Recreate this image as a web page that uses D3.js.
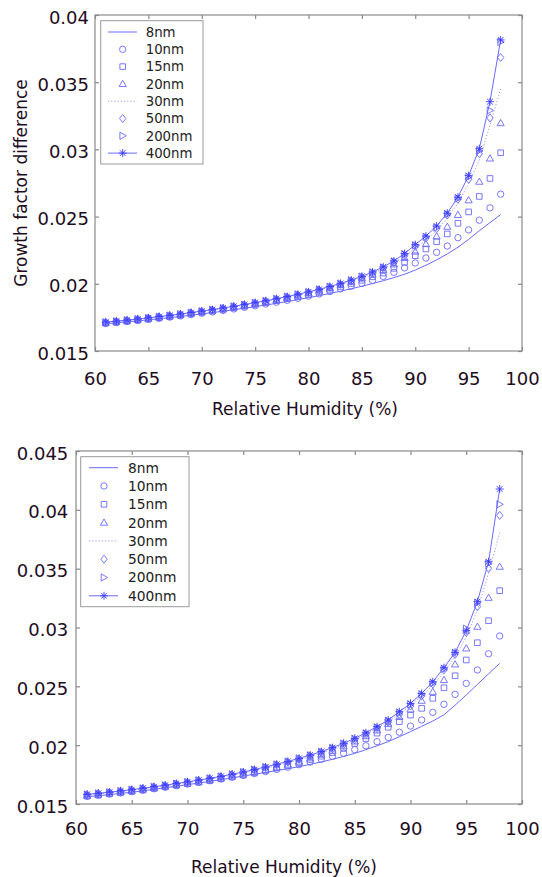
<!DOCTYPE html>
<html>
<head>
<meta charset="utf-8">
<script src="https://cdn.jsdelivr.net/npm/d3@7"></script>
<style>
  body { margin: 0; background: #fff; }
  text { font-family: "DejaVu Sans", sans-serif; }
</style>
</head>
<body>
<script>
const w = 542;
const h = 877;

// Relative humidity (%) of every point
const humidity = [61,62,63,64,65,66,67,68,69,70,71,72,73,74,75,76,77,78,79,80,
                  81,82,83,84,85,86,87,88,89,90,91,92,93,94,95,96,97,98];

const sizes = ["8nm", "10nm", "15nm", "20nm", "30nm", "50nm", "200nm", "400nm"];

// upper panel, growth factor difference
const top8   = [0.01703,0.01710,0.01717,0.01724,0.01732,0.01740,0.01748,0.01757,0.01766,0.01776,0.01786,0.01796,0.01807,0.01818,0.01830,0.01842,0.01855,0.01868,0.01882,0.01897,0.01912,0.01928,0.01945,0.01963,0.01982,0.02002,0.02023,0.02046,0.02071,0.02102,0.02138,0.02178,0.02222,0.02272,0.02330,0.02395,0.02455,0.02515];
const top10  = [0.01705,0.01712,0.01719,0.01727,0.01735,0.01743,0.01752,0.01761,0.01771,0.01781,0.01791,0.01802,0.01813,0.01825,0.01837,0.01850,0.01863,0.01877,0.01892,0.01908,0.01925,0.01943,0.01962,0.01982,0.02003,0.02025,0.02055,0.02085,0.02118,0.02155,0.02192,0.02234,0.02281,0.02343,0.02401,0.02473,0.02565,0.02667];
const top15  = [0.01708,0.01715,0.01722,0.01730,0.01738,0.01747,0.01756,0.01766,0.01776,0.01787,0.01798,0.01809,0.01821,0.01833,0.01846,0.01860,0.01874,0.01889,0.01905,0.01922,0.01940,0.01959,0.01980,0.02002,0.02026,0.02052,0.02080,0.02115,0.02160,0.02209,0.02259,0.02313,0.02371,0.02450,0.02535,0.02650,0.02784,0.02975];
const top20  = [0.01710,0.01717,0.01725,0.01733,0.01741,0.01750,0.01759,0.01769,0.01780,0.01791,0.01802,0.01814,0.01826,0.01839,0.01852,0.01866,0.01881,0.01896,0.01913,0.01931,0.01950,0.01970,0.01992,0.02015,0.02041,0.02070,0.02103,0.02145,0.02192,0.02240,0.02296,0.02353,0.02425,0.02513,0.02622,0.02760,0.02933,0.03196];
const top30  = [0.01712,0.01719,0.01727,0.01735,0.01744,0.01753,0.01762,0.01772,0.01783,0.01794,0.01805,0.01817,0.01829,0.01842,0.01856,0.01870,0.01885,0.01901,0.01918,0.01935,0.01954,0.01974,0.01996,0.02020,0.02047,0.02078,0.02113,0.02155,0.02205,0.02262,0.02325,0.02395,0.02490,0.02600,0.02745,0.02920,0.03180,0.03450];
const top50  = [0.01713,0.01720,0.01728,0.01736,0.01745,0.01754,0.01763,0.01773,0.01783,0.01794,0.01805,0.01817,0.01830,0.01843,0.01856,0.01870,0.01885,0.01901,0.01917,0.01935,0.01954,0.01974,0.01996,0.02020,0.02047,0.02078,0.02114,0.02158,0.02212,0.02278,0.02340,0.02410,0.02512,0.02628,0.02777,0.02968,0.03234,0.03684];
const top200 = [0.01714,0.01721,0.01729,0.01737,0.01746,0.01755,0.01764,0.01774,0.01785,0.01796,0.01807,0.01819,0.01832,0.01845,0.01859,0.01873,0.01888,0.01904,0.01921,0.01939,0.01958,0.01979,0.02002,0.02026,0.02054,0.02085,0.02121,0.02166,0.02220,0.02286,0.02349,0.02418,0.02518,0.02636,0.02795,0.02990,0.03290,0.03800];
const top400 = [0.01715,0.01722,0.01730,0.01738,0.01747,0.01756,0.01765,0.01775,0.01786,0.01797,0.01808,0.01820,0.01833,0.01846,0.01860,0.01874,0.01889,0.01905,0.01922,0.01940,0.01959,0.01980,0.02003,0.02028,0.02056,0.02088,0.02125,0.02170,0.02225,0.02291,0.02355,0.02430,0.02525,0.02645,0.02805,0.03005,0.03355,0.03815];

// lower panel
const bot8   = [0.01562,0.01571,0.01580,0.01590,0.01600,0.01612,0.01625,0.01638,0.01651,0.01665,0.01678,0.01692,0.01707,0.01722,0.01738,0.01753,0.01768,0.01784,0.01800,0.01817,0.01837,0.01858,0.01880,0.01904,0.01930,0.01962,0.01995,0.02030,0.02072,0.02115,0.02160,0.02205,0.02258,0.02340,0.02427,0.02516,0.02606,0.02695];
const bot10  = [0.01565,0.01574,0.01584,0.01594,0.01605,0.01617,0.01630,0.01643,0.01656,0.01670,0.01684,0.01698,0.01713,0.01728,0.01743,0.01759,0.01776,0.01794,0.01813,0.01834,0.01856,0.01880,0.01905,0.01932,0.01962,0.01995,0.02030,0.02066,0.02110,0.02162,0.02214,0.02279,0.02347,0.02432,0.02525,0.02639,0.02777,0.02928];
const bot15  = [0.01568,0.01577,0.01587,0.01597,0.01608,0.01620,0.01633,0.01646,0.01659,0.01672,0.01685,0.01699,0.01714,0.01730,0.01747,0.01765,0.01785,0.01806,0.01828,0.01852,0.01878,0.01906,0.01937,0.01972,0.02014,0.02056,0.02102,0.02152,0.02200,0.02255,0.02313,0.02398,0.02488,0.02590,0.02724,0.02871,0.03058,0.03313];
const bot20  = [0.01571,0.01580,0.01590,0.01600,0.01611,0.01623,0.01636,0.01649,0.01662,0.01675,0.01689,0.01703,0.01719,0.01735,0.01752,0.01771,0.01791,0.01813,0.01836,0.01861,0.01889,0.01920,0.01954,0.01991,0.02032,0.02077,0.02126,0.02180,0.02240,0.02304,0.02378,0.02454,0.02554,0.02687,0.02823,0.03007,0.03253,0.03517];
const bot30  = [0.01576,0.01585,0.01595,0.01605,0.01617,0.01629,0.01642,0.01655,0.01668,0.01682,0.01697,0.01712,0.01728,0.01745,0.01763,0.01783,0.01804,0.01826,0.01850,0.01876,0.01904,0.01935,0.01968,0.02005,0.02046,0.02093,0.02145,0.02202,0.02268,0.02338,0.02420,0.02510,0.02620,0.02750,0.02920,0.03149,0.03460,0.03806];
const bot50  = [0.01580,0.01589,0.01599,0.01609,0.01620,0.01631,0.01644,0.01657,0.01671,0.01685,0.01700,0.01715,0.01731,0.01749,0.01768,0.01788,0.01810,0.01832,0.01856,0.01881,0.01908,0.01938,0.01970,0.02005,0.02045,0.02090,0.02140,0.02195,0.02262,0.02332,0.02420,0.02520,0.02640,0.02772,0.02958,0.03177,0.03503,0.03953];
const bot200 = [0.01581,0.01590,0.01600,0.01610,0.01621,0.01633,0.01646,0.01659,0.01673,0.01687,0.01702,0.01718,0.01734,0.01752,0.01771,0.01792,0.01814,0.01837,0.01861,0.01887,0.01914,0.01944,0.01977,0.02013,0.02054,0.02100,0.02151,0.02207,0.02276,0.02346,0.02430,0.02528,0.02648,0.02785,0.02990,0.03210,0.03545,0.04047];
const bot400 = [0.01582,0.01591,0.01601,0.01611,0.01622,0.01634,0.01647,0.01660,0.01674,0.01688,0.01703,0.01719,0.01735,0.01753,0.01772,0.01793,0.01815,0.01838,0.01862,0.01888,0.01916,0.01946,0.01979,0.02016,0.02058,0.02105,0.02157,0.02214,0.02284,0.02355,0.02440,0.02539,0.02658,0.02789,0.02973,0.03219,0.03559,0.04177];

const xTicks = [60, 65, 70, 75, 80, 85, 90, 95, 100];
const yTicksTop = [0.015, 0.02, 0.025, 0.03, 0.035, 0.04];
const yTicksBot = [0.015, 0.02, 0.025, 0.03, 0.035, 0.04, 0.045];

// how each size is drawn (matlab style)
const styles = {
  "8nm":   { line: "solid",  marker: null },
  "10nm":  { line: null,     marker: "circle" },
  "15nm":  { line: null,     marker: "square" },
  "20nm":  { line: null,     marker: "triangle" },
  "30nm":  { line: "dotted", marker: null },
  "50nm":  { line: null,     marker: "diamond" },
  "200nm": { line: null,     marker: "right" },
  "400nm": { line: "solid",  marker: "star" }
};

const blue = "#6a6aff";
const textCol = "#1e0c1e";

function markerPath(type) {
  switch (type) {
    case "circle": return "M3.2,0A3.2,3.2 0 1,1 -3.2,0A3.2,3.2 0 1,1 3.2,0Z";
    case "square": return "M-2.8,-2.8H2.8V2.8H-2.8Z";
    case "triangle": return "M0,-3.6L3.6,2.6H-3.6Z";
    case "diamond": return "M0,-4L3.2,0L0,4L-3.2,0Z";
    case "right": return "M-2.8,-3.6L3.6,0L-2.8,3.6Z";
    case "star": return "M-4,0H4M0,-4V4M-2.9,-2.9L2.9,2.9M-2.9,2.9L2.9,-2.9";
  }
}

const svg = d3.select("body").append("svg").attr("width", w).attr("height", h);

function panel(p) {
  const xScale = d3.scaleLinear().domain([60, 100]).range([p.left, p.right]);
  const yScale = d3.scaleLinear().domain(p.yDomain).range([p.bottom, p.top]);
  const g = svg.append("g");

  // frame
  g.append("rect")
    .attr("x", p.left).attr("y", p.top)
    .attr("width", p.right - p.left).attr("height", p.bottom - p.top)
    .attr("fill", "none").attr("stroke", "#8a8a8a").attr("stroke-width", 1.2);

  // ticks on all four sides, pointing inward
  const xAxis = d3.axisBottom(xScale).tickValues(xTicks).tickSize(-4).tickPadding(p.xPad);
  const yAxis = d3.axisLeft(yScale).tickValues(p.yTicks).tickSize(-4).tickPadding(p.yPad)
    .tickFormat(d => String(+d.toFixed(3)));
  const xTop = d3.axisTop(xScale).tickValues(xTicks).tickSize(-4).tickFormat("");
  const yRight = d3.axisRight(yScale).tickValues(p.yTicks).tickSize(-4).tickFormat("");

  const gx = g.append("g").attr("transform", "translate(0," + p.bottom + ")").call(xAxis);
  const gy = g.append("g").attr("transform", "translate(" + p.left + ",0)").call(yAxis);
  const gt = g.append("g").attr("transform", "translate(0," + p.top + ")").call(xTop);
  const gr = g.append("g").attr("transform", "translate(" + p.right + ",0)").call(yRight);
  [gx, gy, gt, gr].forEach(a => {
    a.select(".domain").remove();
    a.selectAll(".tick line").attr("stroke", "#8a8a8a").attr("stroke-width", 1.2);
    a.selectAll("text").attr("fill", textCol).style("font-size", "18px")
      .style("font-family", "'DejaVu Sans', sans-serif");
  });
  gy.selectAll("text").attr("dy", "0.45em");

  // series, drawn 8nm first so 400nm ends on top
  const line = d3.line().x(d => xScale(d[0])).y(d => yScale(d[1]));
  sizes.forEach((name, k) => {
    const st = styles[name];
    const pts = humidity.map((x, i) => [x, p.series[k][i]]);
    if (st.line) {
      g.append("path").datum(pts)
        .attr("d", line)
        .attr("fill", "none")
        .attr("stroke", st.line === "dotted" ? "#9a9aff" : blue)
        .attr("stroke-width", 1)
        .attr("stroke-dasharray", st.line === "dotted" ? "1.2,2" : null);
    }
    if (st.marker) {
      g.selectAll(null).data(pts).enter().append("path")
        .attr("transform", d => "translate(" + xScale(d[0]) + "," + yScale(d[1]) + ")")
        .attr("d", markerPath(st.marker))
        .attr("fill", "none")
        .attr("stroke", st.marker === "star" ? "#3a3aff" : blue)
        .attr("stroke-width", 0.9);
    }
  });

  // axis labels
  g.append("text")
    .attr("x", p.xLabelX).attr("y", p.xLabelY)
    .attr("text-anchor", "middle")
    .attr("fill", textCol)
    .style("font-size", "17px")
    .text("Relative Humidity (%)");

  if (p.yLabel) {
    g.append("text")
      .attr("transform", "translate(" + p.yLabelX + "," + p.yLabelY + ") rotate(-90)")
      .attr("text-anchor", "middle")
      .attr("dy", "0.35em")
      .attr("fill", textCol)
      .style("font-size", "17px")
      .text(p.yLabel);
  }

  // legend
  const L = p.legend;
  g.append("rect")
    .attr("x", L.x).attr("y", L.y).attr("width", L.w).attr("height", L.h)
    .attr("fill", "#fff").attr("stroke", "#9a9a9a").attr("stroke-width", 1);
  sizes.forEach((name, i) => {
    const st = styles[name];
    const cy = L.row0 + i * L.step;
    if (st.line) {
      g.append("line")
        .attr("x1", L.lx0).attr("x2", L.lx1).attr("y1", cy).attr("y2", cy)
        .attr("stroke", st.line === "dotted" ? "#9a9aff" : blue)
        .attr("stroke-width", 1)
        .attr("stroke-dasharray", st.line === "dotted" ? "1.2,2" : null);
    }
    if (st.marker) {
      g.append("path")
        .attr("transform", "translate(" + L.mx + "," + cy + ")")
        .attr("d", markerPath(st.marker))
        .attr("fill", "none")
        .attr("stroke", st.marker === "star" ? "#3a3aff" : blue)
        .attr("stroke-width", 0.9);
    }
    g.append("text")
      .attr("x", L.tx).attr("y", cy).attr("dy", "0.36em")
      .attr("fill", "#222")
      .style("font-size", L.fs + "px")
      .text(name);
  });
}

panel({
  left: 95, right: 522, top: 15, bottom: 351,
  yDomain: [0.015, 0.04], yTicks: yTicksTop,
  xPad: 21, yPad: 6,
  series: [top8, top10, top15, top20, top30, top50, top200, top400],
  xLabelX: 305, xLabelY: 415,
  yLabel: "Growth factor difference", yLabelX: 21, yLabelY: 183,
  legend: { x: 100.7, y: 20.7, w: 102.3, h: 143.3, row0: 32, step: 17.3,
            lx0: 108, lx1: 137, mx: 122.7, tx: 145.7, fs: 13.3 }
});

panel({
  left: 76, right: 522, top: 451, bottom: 804,
  yDomain: [0.015, 0.045], yTicks: yTicksBot,
  xPad: 18, yPad: 7.7,
  series: [bot8, bot10, bot15, bot20, bot30, bot50, bot200, bot400],
  xLabelX: 284, xLabelY: 873,
  yLabel: null,
  legend: { x: 80.7, y: 456.7, w: 108.3, h: 150, row0: 467.7, step: 18.3,
            lx0: 89, lx1: 118, mx: 104, tx: 128, fs: 13.8 }
});
</script>
</body>
</html>
